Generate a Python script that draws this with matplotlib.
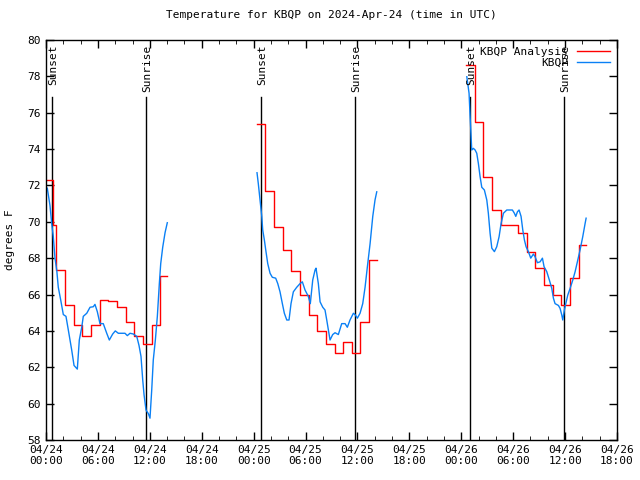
import numpy as np
import matplotlib
matplotlib.use("Agg")
import matplotlib.pyplot as plt

plt.rcParams['font.family'] = ['DejaVu Sans Mono']

# hours since 04/24 00:00 UTC
# analysis (hourly steps)
ana1_t = [0, 0.85, 1.2, 2.2, 3.2, 4.2, 5.2, 6.2, 7.2, 8.2, 9.2, 10.2, 11.2, 12.2, 13.2, 14.0]
ana1_v = [72.3, 69.8, 67.35, 65.4, 64.3, 63.7, 64.3, 65.7, 65.65, 65.3, 64.5, 63.7, 63.3, 64.3, 67.0, 67.0]
ana2_t = [24.35, 25.35, 26.35, 27.35, 28.35, 29.35, 30.35, 31.35, 32.35, 33.35, 34.35, 35.35, 36.35, 37.35, 38.3]
ana2_v = [75.4, 71.7, 69.7, 68.45, 67.3, 66.0, 64.9, 64.0, 63.3, 62.8, 63.4, 62.8, 64.5, 67.9, 67.9]
ana3_t = [48.55, 49.55, 50.55, 51.55, 52.55, 53.55, 54.55, 55.55, 56.55, 57.55, 58.55, 59.55, 60.55, 61.55, 62.45]
ana3_v = [78.6, 75.5, 72.45, 70.65, 69.8, 69.8, 69.4, 68.35, 67.45, 66.5, 65.95, 65.45, 66.9, 68.7, 68.7]

# observations
obs1_t = [0.15, 0.46, 0.66, 0.84, 1.04, 1.24, 1.42, 1.7, 2.0, 2.31, 2.58, 2.97, 3.24, 3.62, 3.85,
          4.13, 4.31, 4.71, 5.09, 5.47, 5.66, 5.93, 6.24, 6.62, 7.02, 7.32, 7.71, 8.01, 8.36, 9.13,
          9.4, 9.71, 10.09, 10.49, 10.75, 10.98, 11.18, 11.33, 11.56, 11.83, 12.02, 12.22, 12.4,
          12.64, 12.87, 13.1, 13.26, 13.49, 13.76, 14.02]
obs1_v = [71.85, 70.9, 69.9, 69.2, 68.0, 67.35, 66.4, 65.7, 64.9, 64.8, 64.05, 62.95, 62.1, 61.9, 63.5,
          64.2, 64.8, 64.97, 65.3, 65.33, 65.46, 65.06, 64.4, 64.4, 63.87, 63.5, 63.83, 64.0, 63.87, 63.87,
          63.74, 63.87, 63.83, 63.7, 63.2, 62.6, 61.3, 60.5, 59.65, 59.45, 59.2, 60.75, 62.4,
          63.5, 64.8, 66.6, 67.7, 68.6, 69.4, 69.95]
obs2_t = [24.39, 24.54, 24.74, 24.94, 25.05, 25.24, 25.4, 25.63, 25.9, 26.16, 26.55, 26.79, 27.05,
          27.32, 27.55, 27.83, 28.09, 28.32, 28.59, 28.98, 29.36, 29.63, 29.94, 30.32, 30.55, 30.83,
          31.1, 31.21, 31.48, 31.68, 31.99, 32.25, 32.45, 32.64, 32.83, 33.14, 33.41, 33.79, 34.18,
          34.57, 34.83, 35.14, 35.53, 35.72, 35.99, 36.3, 36.61, 36.88, 37.14, 37.46, 37.77, 38.03, 38.23]
obs2_v = [72.7, 72.1, 71.2, 70.3, 69.55, 69.0, 68.45, 67.7, 67.17, 66.95, 66.9, 66.6, 66.15,
          65.5, 64.97, 64.6, 64.6, 65.5, 66.15, 66.4, 66.6, 66.7, 66.25, 65.9, 65.5, 66.8,
          67.35, 67.45, 66.6, 65.6, 65.3, 65.15, 64.6, 64.05, 63.5, 63.8, 63.9, 63.8, 64.4,
          64.4, 64.2, 64.6, 64.97, 64.9, 64.7, 64.97, 65.5, 66.4, 67.5, 68.8, 70.3, 71.2, 71.65]
obs3_t = [48.64, 48.75, 48.9, 49.02, 49.1, 49.21, 49.4, 49.6, 49.79, 49.98, 50.17, 50.37, 50.67,
          50.95, 51.13, 51.33, 51.53, 51.83, 52.1, 52.37, 52.6, 52.87, 53.26, 53.64, 53.91, 54.14,
          54.3, 54.49, 54.68, 54.91, 55.11, 55.3, 55.49, 55.76, 56.03, 56.34, 56.53, 56.8, 57.11,
          57.38, 57.57, 57.88, 58.18, 58.46, 58.65, 58.84, 59.23, 59.42, 59.62, 59.73, 59.92, 60.08,
          60.31, 60.58, 60.89, 61.16, 61.42, 61.73, 62.04, 62.31, 62.43]
obs3_v = [77.98, 77.6, 77.07, 75.8, 75.05, 73.95, 74.04, 73.95, 73.77, 73.2, 72.5, 71.9, 71.75,
          71.2, 70.47, 69.37, 68.55, 68.36, 68.63, 69.18, 69.9, 70.47, 70.65, 70.65, 70.65, 70.47,
          70.3, 70.55, 70.65, 70.3, 69.55, 69.0, 68.63, 68.36, 68.0, 68.23, 68.08, 67.75, 67.8,
          68.0, 67.53, 67.26, 66.8, 66.34, 65.8, 65.5, 65.4, 65.24, 64.87, 64.6, 65.15, 65.5,
          65.97, 66.34, 66.8, 67.26, 67.8, 68.45, 69.18, 69.9, 70.2]

sun_t = [0.73, 11.6, 24.9, 35.76, 49.06, 59.92]
sun_lbl = ['Sunset', 'Sunrise', 'Sunset', 'Sunrise', 'Sunset', 'Sunrise']

xticks = [0, 6, 12, 18, 24, 30, 36, 42, 48, 54, 60, 66]
xlabels = ['04/24\n00:00', '04/24\n06:00', '04/24\n12:00', '04/24\n18:00',
           '04/25\n00:00', '04/25\n06:00', '04/25\n12:00', '04/25\n18:00',
           '04/26\n00:00', '04/26\n06:00', '04/26\n12:00', '04/26\n18:00']

red = '#ff0000'
blue = '#0a80f5'

fig = plt.figure(figsize=(6.4, 4.8), dpi=100)
ax = fig.add_axes([46/640, 40/480, 571/640, 400/480])

for t, lbl in zip(sun_t, sun_lbl):
    ax.plot([t, t], [58, 76.85], color='black', lw=1)
    ax.text(t + 0.1, 79.75, lbl, rotation=90, ha='center', va='top', fontsize=8)

first = True
for t, v in [(ana1_t, ana1_v), (ana2_t, ana2_v), (ana3_t, ana3_v)]:
    ax.plot(t, v, color=red, lw=1, drawstyle='steps-post',
            label='KBQP Analysis' if first else None)
    first = False
first = True
for t, v in [(obs1_t, obs1_v), (obs2_t, obs2_v), (obs3_t, obs3_v)]:
    ax.plot(t, v, color=blue, lw=1, label='KBQP' if first else None)
    first = False

ax.set_xlim(0, 66)
ax.set_ylim(58, 80)
ax.set_xticks(xticks)
ax.set_xticklabels(xlabels)
ax.set_xticks(np.arange(0, 67, 2), minor=True)
ax.set_yticks(np.arange(58, 81, 2))
ax.tick_params(direction='in', top=True, right=True, labelsize=8, length=6, width=1)
ax.tick_params(which='minor', direction='in', top=True, right=True, length=3)
for s in ax.spines.values():
    s.set_linewidth(1)

ax.set_ylabel('degrees F', fontsize=8, labelpad=9)
ax.set_title('Temperature for KBQP on 2024-Apr-24 (time in UTC)', fontsize=8, pad=16)

ax.legend(loc='upper right', frameon=False, markerfirst=False, fontsize=8,
          handlelength=3.0, borderaxespad=0.2, labelspacing=0.1, handletextpad=0.8)

fig.savefig('out.png', dpi=100)
